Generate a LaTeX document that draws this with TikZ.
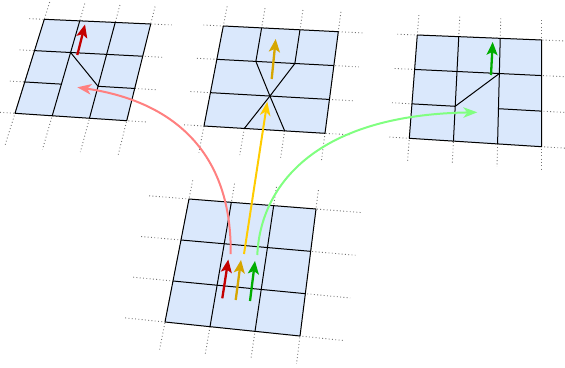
\documentclass[tikz,border=0pt]{standalone}
\usepackage{xcolor}
\usepackage{tikz}
\usetikzlibrary{arrows.meta, calc}

\definecolor{cellblue}{HTML}{DAE8FC}
\definecolor{movered}{HTML}{C40000}
\definecolor{movegold}{HTML}{D6A600}
\definecolor{movegreen}{HTML}{00AD00}
\definecolor{pathred}{HTML}{FF8080}
\definecolor{pathgold}{HTML}{FFCC00}
\definecolor{pathgreen}{HTML}{80FF80}

\begin{document}
\begin{tikzpicture}[
    x=1pt, y=-1pt,
    cell-fill/.style={fill=cellblue},
    grid-line/.style={draw=black, line width=1pt, line join=round},
    ext-line/.style={draw=black!55, line width=0.9pt, dash pattern=on 0.9pt off 2.4pt},
    move-arrow/.style={line width=2.3pt, -{Stealth[length=13pt, width=11pt, inset=3pt]}},
    path-arrow/.style={line width=2pt, -{Stealth[length=14pt, width=10.5pt, inset=4pt]}}
]

    \useasboundingbox (0,0) rectangle (565,367);

    % corners of the four meshes
    \coordinate (A-tl) at (44.3,19.3);
    \coordinate (A-tr) at (150.7,24);
    \coordinate (A-br) at (126.7,120.7);
    \coordinate (A-bl) at (15,113.3);

    \coordinate (B-tl) at (223.3,26);
    \coordinate (B-tr) at (338.3,31.7);
    \coordinate (B-br) at (325,133.3);
    \coordinate (B-bl) at (204,126);

    \coordinate (C-tl) at (417.3,35);
    \coordinate (C-tr) at (541.7,40);
    \coordinate (C-br) at (541.7,146.7);
    \coordinate (C-bl) at (409.3,138.3);

    \coordinate (D-tl) at (189,199);
    \coordinate (D-tr) at (316,209);
    \coordinate (D-br) at (300,336);
    \coordinate (D-bl) at (165,322);

    \foreach \g/\el/\er/\eu/\ed in {A/15pt/21pt/18pt/35pt, B/20pt/25pt/20pt/27pt,
                                   C/20pt/24pt/20pt/23pt, D/40pt/45pt/19pt/28pt} {
        \foreach \j in {0,...,3} {
            \coordinate (\g-t\j) at ($(\g-tl)!{\j/3}!(\g-tr)$);
            \coordinate (\g-b\j) at ($(\g-bl)!{\j/3}!(\g-br)$);
            \foreach \i in {0,...,3}
                \coordinate (\g-\i\j) at ($(\g-t\j)!{\i/3}!(\g-b\j)$);
        }
        \foreach \k in {0,...,3} {
            \draw[ext-line, shorten <=-\el, shorten >=-\er] (\g-\k0) -- (\g-\k3);
            \draw[ext-line, shorten <=-\eu, shorten >=-\ed] (\g-0\k) -- (\g-3\k);
        }
        \fill[cell-fill] (\g-00) -- (\g-03) -- (\g-33) -- (\g-30) -- cycle;
        \draw[grid-line] (\g-00) -- (\g-03) -- (\g-33) -- (\g-30) -- cycle;
        \draw[grid-line] (\g-10) -- (\g-13);
    }

    % mesh A: diagonal flip to the left
    \draw[grid-line] (A-20) -- (A-21) (A-22) -- (A-23);
    \draw[grid-line] (A-01) -- (A-31) (A-02) -- (A-32);
    \draw[grid-line] (A-11) -- (A-22);

    % mesh B: collapsed cell
    \coordinate (B-m) at ($(B-21)!0.5!(B-22)$);
    \draw[grid-line] (B-20) -- (B-23);
    \draw[grid-line] (B-01) -- (B-11) -- (B-m) -- (B-31);
    \draw[grid-line] (B-02) -- (B-12) -- (B-m) -- (B-32);

    % mesh C: diagonal flip to the right
    \draw[grid-line] (C-20) -- (C-21) (C-22) -- (C-23);
    \draw[grid-line] (C-01) -- (C-31) (C-02) -- (C-32);
    \draw[grid-line] (C-21) -- (C-12);

    % mesh D: regular
    \draw[grid-line] (D-20) -- (D-23);
    \draw[grid-line] (D-01) -- (D-31) (D-02) -- (D-32);

    % short moves
    \coordinate (d-red-s) at (222.3,298.3);
    \coordinate (d-red-e) at (228.3,259.5);
    \coordinate (d-gold-s) at (235.7,300);
    \coordinate (d-gold-e) at (241,260);
    \coordinate (d-green-s) at (250,301);
    \coordinate (d-green-e) at (255,261);
    \coordinate (a-red-s) at (77.3,55);
    \coordinate (a-red-e) at (85,24.5);
    \coordinate (b-gold-s) at (271.7,79);
    \coordinate (b-gold-e) at (275.7,39);
    \coordinate (c-green-s) at (491,75);
    \coordinate (c-green-e) at (492.7,42);

    \draw[move-arrow, draw=movered, fill=movered] (d-red-s) -- (d-red-e);
    \draw[move-arrow, draw=movegold, fill=movegold] (d-gold-s) -- (d-gold-e);
    \draw[move-arrow, draw=movegreen, fill=movegreen] (d-green-s) -- (d-green-e);
    \draw[move-arrow, draw=movered, fill=movered] (a-red-s) -- (a-red-e);
    \draw[move-arrow, draw=movegold, fill=movegold] (b-gold-s) -- (b-gold-e);
    \draw[move-arrow, draw=movegreen, fill=movegreen] (c-green-s) -- (c-green-e);

    % links to the outcomes
    \coordinate (d-red-c) at (230.7,254);
    \coordinate (d-gold-c) at (244,254);
    \coordinate (d-green-c) at (257.3,255);
    \coordinate (a-red-c) at (77.3,87.3);
    \coordinate (b-gold-c) at (267.3,101.7);
    \coordinate (c-green-c) at (477.3,112.3);

    \draw[path-arrow, draw=pathred] (d-red-c) .. controls (232,145) and (165,100) .. (a-red-c);
    \draw[path-arrow, draw=pathgold] (d-gold-c) -- (b-gold-c);
    \draw[path-arrow, draw=pathgreen] (d-green-c) .. controls (260,190) and (310,115) .. (c-green-c);

\end{tikzpicture}
\end{document}
